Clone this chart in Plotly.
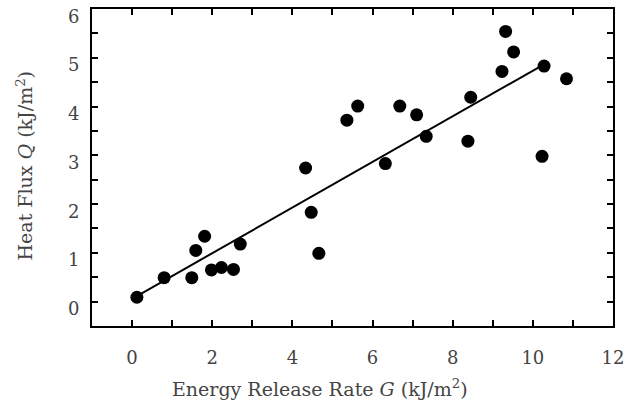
import plotly.graph_objects as go

# Data
G = [0.12, 0.80, 1.49, 1.59, 1.81, 1.98, 2.23, 2.53, 2.70, 4.33, 4.47, 4.66,
     5.36, 5.63, 6.32, 6.68, 7.10, 7.34, 8.38, 8.45, 9.23, 9.32, 9.52, 10.23,
     10.28, 10.84]
Q = [0.09, 0.49, 0.49, 1.05, 1.34, 0.65, 0.70, 0.66, 1.18, 2.74, 1.83, 0.99,
     3.72, 4.01, 2.83, 4.01, 3.83, 3.39, 3.29, 4.19, 4.72, 5.54, 5.12, 2.98,
     4.83, 4.57]
fit_G = [0.22, 10.16]
fit_Q = [0.16, 4.81]

x_ticks = [0, 2, 4, 6, 8, 10, 12]
y_ticks = [0, 1, 2, 3, 4, 5, 6]

x_title = "Energy Release Rate <i>G</i> (kJ/m<sup>2</sup>)"
y_title = "Heat Flux <i>Q</i> (kJ/m<sup>2</sup>)"

FONT = "DejaVu Serif, Liberation Serif, serif"
TXT = "#444"

fig = go.Figure()
fig.add_trace(go.Scatter(x=fit_G, y=fit_Q, mode="lines",
                         line=dict(color="black", width=2), showlegend=False))
fig.add_trace(go.Scatter(x=G, y=Q, mode="markers",
                         marker=dict(color="black", size=13), showlegend=False))

axis_common = dict(
    showline=True, linecolor="black", linewidth=2, mirror="ticks",
    ticks="inside", ticklen=6, tickwidth=2, tickcolor="black",
    showgrid=False, zeroline=False, ticklabeloverflow="allow", automargin=False,
    tickfont=dict(family=FONT, size=18, color=TXT),
)

fig.update_xaxes(
    range=[-1, 12], tickvals=x_ticks, ticktext=[str(v) for v in x_ticks],
    minor=dict(dtick=1, tick0=0, ticks="inside", ticklen=6, tickwidth=2, tickcolor="black"),
    ticklabelstandoff=14,
    **axis_common,
)
fig.update_yaxes(
    range=[-0.5, 6], tickvals=y_ticks, showticklabels=False,
    minor=dict(dtick=0.5, tick0=0, ticks="inside", ticklen=6, tickwidth=2, tickcolor="black"),
    **axis_common,
)

# y tick labels sit slightly below their ticks, as in the reference
for v in y_ticks:
    fig.add_annotation(
        text=str(v), xref="paper", x=0, yref="y", y=v,
        xanchor="right", yanchor="middle", xshift=-11, yshift=-7,
        showarrow=False, font=dict(family=FONT, size=18, color=TXT),
    )

fig.add_annotation(
    text=y_title, xref="paper", yref="paper", x=0, y=0.5,
    xanchor="center", yanchor="middle", xshift=-68, yshift=2, textangle=-90,
    showarrow=False, font=dict(family=FONT, size=19, color=TXT),
)
fig.add_annotation(
    text=x_title, xref="paper", yref="paper", x=0.4376, y=0,
    xanchor="center", yanchor="middle", yshift=-62, showarrow=False,
    font=dict(family=FONT, size=19, color=TXT),
)

fig.update_layout(
    width=623, height=400,
    margin=dict(l=92, r=10, t=9, b=74),
    plot_bgcolor="white", paper_bgcolor="white",
)

fig.write_html("out.html")
